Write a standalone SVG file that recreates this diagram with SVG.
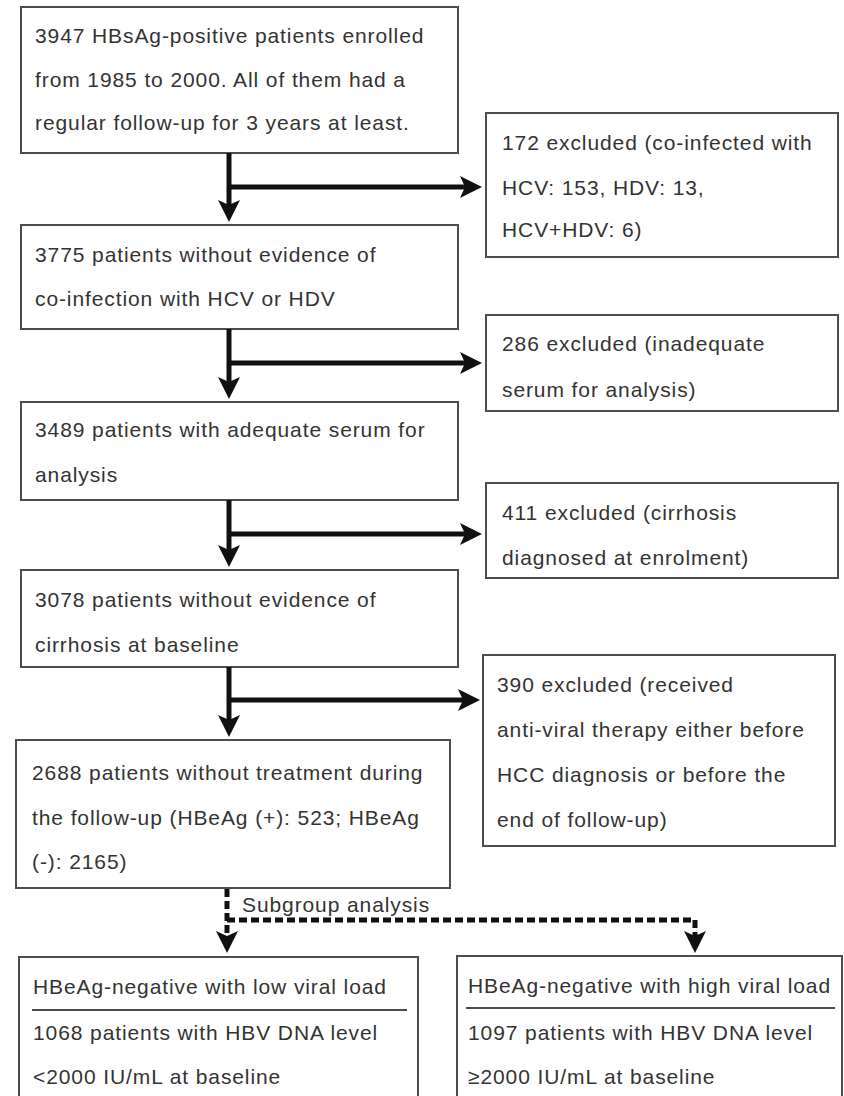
<svg xmlns="http://www.w3.org/2000/svg" width="844" height="1096" viewBox="0 0 844 1096">
<style>
.box{fill:#fff;stroke:#4d4d4d;stroke-width:2}
.sep{stroke:#4d4d4d;stroke-width:2}
.t{font-family:"Liberation Sans",Arial,sans-serif;font-size:21px;letter-spacing:0.9px;fill:#333}
.solid{fill:none;stroke:#111;stroke-width:5}
.dash{fill:none;stroke:#111;stroke-width:5;stroke-dasharray:8 4}
</style>
<defs>
<marker id="ah" markerUnits="userSpaceOnUse" markerWidth="24" markerHeight="22" refX="12" refY="11" orient="auto" overflow="visible">
<path d="M0,0 L22,11 L0,22 L5,11 Z" fill="#111"/>
</marker>
</defs>
<rect width="844" height="1096" fill="#fff"/>

<g id="n1"><rect class="box" x="21" y="7" width="437" height="146"/>
<text class="t" x="35" y="43">3947 HBsAg-positive patients enrolled</text>
<text class="t" x="35" y="87">from 1985 to 2000. All of them had a</text>
<text class="t" x="35" y="130">regular follow-up for 3 years at least.</text></g>

<g id="x1"><rect class="box" x="486" y="113" width="352" height="144"/>
<text class="t" x="502" y="150">172 excluded (co-infected with</text>
<text class="t" x="502" y="195">HCV: 153, HDV: 13,</text>
<text class="t" x="502" y="237">HCV+HDV: 6)</text></g>

<g id="n2"><rect class="box" x="21" y="225" width="437" height="104"/>
<text class="t" x="35" y="262">3775 patients without evidence of</text>
<text class="t" x="35" y="306">co-infection with HCV or HDV</text></g>

<g id="x2"><rect class="box" x="486" y="315" width="352" height="96"/>
<text class="t" x="502" y="351">286 excluded (inadequate</text>
<text class="t" x="502" y="397">serum for analysis)</text></g>

<g id="n3"><rect class="box" x="21" y="402" width="437" height="98"/>
<text class="t" x="35" y="437">3489 patients with adequate serum for</text>
<text class="t" x="35" y="482">analysis</text></g>

<g id="x3"><rect class="box" x="486" y="483" width="352" height="95"/>
<text class="t" x="502" y="520">411 excluded (cirrhosis</text>
<text class="t" x="502" y="565">diagnosed at enrolment)</text></g>

<g id="n4"><rect class="box" x="21" y="570" width="437" height="97"/>
<text class="t" x="35" y="607">3078 patients without evidence of</text>
<text class="t" x="35" y="652">cirrhosis at baseline</text></g>

<g id="x4"><rect class="box" x="483" y="655" width="352" height="191"/>
<text class="t" x="497" y="692">390 excluded (received</text>
<text class="t" x="497" y="737">anti-viral therapy either before</text>
<text class="t" x="497" y="782">HCC diagnosis or before the</text>
<text class="t" x="497" y="827">end of follow-up)</text></g>

<g id="n5"><rect class="box" x="16" y="740" width="434" height="148"/>
<text class="t" x="32" y="780">2688 patients without treatment during</text>
<text class="t" x="32" y="825">the follow-up (HBeAg (+): 523; HBeAg</text>
<text class="t" x="32" y="869">(-): 2165)</text></g>

<g id="b1"><rect class="box" x="19" y="957" width="399" height="150"/>
<text class="t" x="33" y="994">HBeAg-negative with low viral load</text>
<line class="sep" x1="32" y1="1010" x2="407" y2="1010"/>
<text class="t" x="33" y="1040">1068 patients with HBV DNA level</text>
<text class="t" x="33" y="1084">&lt;2000 IU/mL at baseline</text></g>

<g id="b2"><rect class="box" x="457" y="956" width="385" height="150"/>
<text class="t" x="468" y="993">HBeAg-negative with high viral load</text>
<line class="sep" x1="466" y1="1008" x2="835" y2="1008"/>
<text class="t" x="468" y="1040">1097 patients with HBV DNA level</text>
<text class="t" x="468" y="1084">≥2000 IU/mL at baseline</text></g>

<g id="label"><text class="t" x="242" y="912">Subgroup analysis</text></g>

<g id="connectors">
<path class="solid" d="M229,153 V212" marker-end="url(#ah)"/>
<path class="solid" d="M229,187 H472" marker-end="url(#ah)"/>
<path class="solid" d="M229,329 V389" marker-end="url(#ah)"/>
<path class="solid" d="M229,363 H472" marker-end="url(#ah)"/>
<path class="solid" d="M229,500 V557" marker-end="url(#ah)"/>
<path class="solid" d="M229,534 H472" marker-end="url(#ah)"/>
<path class="solid" d="M229,667 V727" marker-end="url(#ah)"/>
<path class="solid" d="M229,700 H470" marker-end="url(#ah)"/>
<path class="dash" d="M227,889 V943" marker-end="url(#ah)"/>
<path class="dash" d="M227,920 H695 V943" marker-end="url(#ah)"/>
</g>
</svg>
